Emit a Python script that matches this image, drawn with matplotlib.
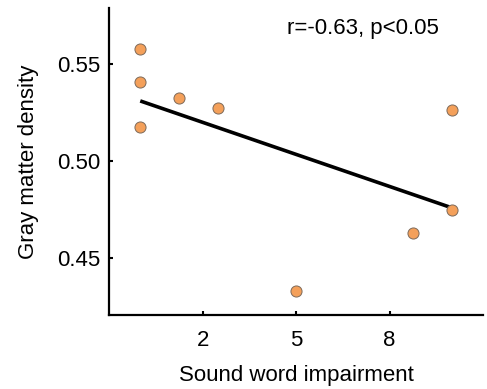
import numpy as np
import matplotlib
matplotlib.use("Agg")
import matplotlib.pyplot as plt

plt.rcParams['font.family'] = ['Liberation Sans', 'DejaVu Sans']

impairment = [0, 0, 0, 1.25, 2.5, 5, 8.75, 10, 10]
density = [0.5578, 0.5407, 0.5177, 0.5329, 0.5273, 0.4328, 0.4626, 0.5264, 0.4747]
x_ticks = [2, 5, 8]
y_ticks = [0.45, 0.50, 0.55]
y_ticklabels = ['0.45', '0.50', '0.55']
annotation = "r=-0.63, p<0.05"

fig = plt.figure(figsize=(4.87, 3.89), dpi=100)
ax = fig.add_axes([0.224, 0.190, 0.768, 0.789])

x = np.array(impairment)
y = np.array(density)
slope, intercept = np.polyfit(x, y, 1)
xl = np.array([x.min(), x.max()])
ax.plot(xl, intercept + slope * xl, color='black', lw=2.6, zorder=2, solid_capstyle='butt')
ax.scatter(x, y, s=64, facecolor='#F4A05A', edgecolor='#7d6a5a', linewidth=0.7, zorder=3)

ax.set_xlim(-1, 11)
ax.set_ylim(0.4204, 0.5791)
ax.set_xticks(x_ticks)
ax.set_xticklabels([str(t) for t in x_ticks])
ax.set_yticks(y_ticks)
ax.set_yticklabels(y_ticklabels)
ax.tick_params(direction='in', length=3, width=1.5, labelsize=16)
ax.tick_params(axis='x', pad=11)
ax.tick_params(axis='y', pad=6)

for s in ['top', 'right']:
    ax.spines[s].set_visible(False)
for s in ['left', 'bottom']:
    ax.spines[s].set_linewidth(1.6)

ax.set_xlabel('Sound word impairment', fontsize=16, labelpad=10)
ax.set_ylabel('Gray matter density', fontsize=16, labelpad=13)
ax.text(0.68, 0.935, annotation, transform=ax.transAxes, ha='center', va='center', fontsize=16)

fig.savefig('out.png', dpi=100)
